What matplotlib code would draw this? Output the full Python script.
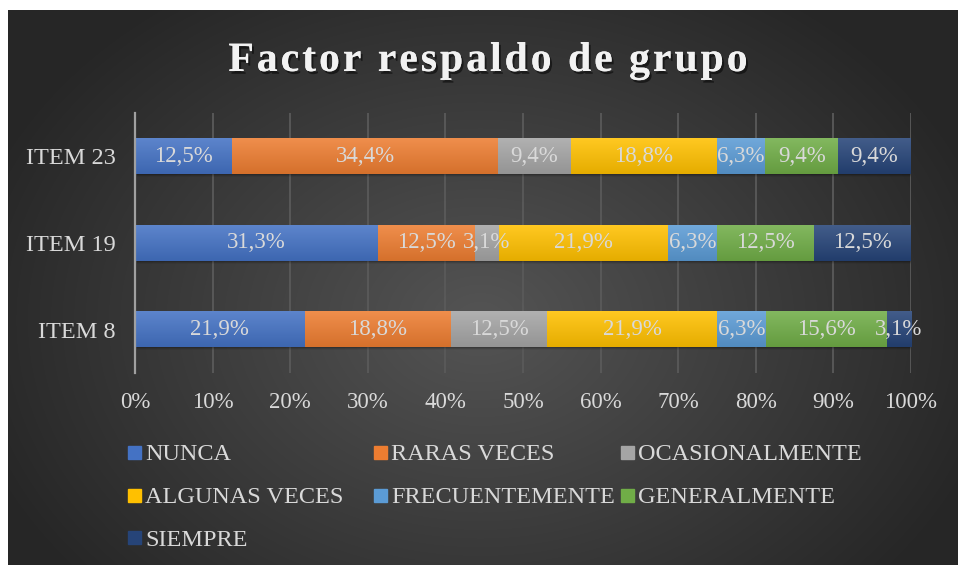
import numpy as np
import matplotlib
matplotlib.use('Agg')
import matplotlib.pyplot as plt
import matplotlib.patheffects as pe
from matplotlib.colors import to_rgb
from matplotlib.patches import Rectangle
from matplotlib.font_manager import FontProperties, findfont
from matplotlib.ft2font import FT2Font

# survey results, one list per answer, in item order (bottom to top)
items = ['ITEM 8', 'ITEM 19', 'ITEM 23']
answers = ['NUNCA', 'RARAS VECES', 'OCASIONALMENTE', 'ALGUNAS VECES',
           'FRECUENTEMENTE', 'GENERALMENTE', 'SIEMPRE']
nunca = [21.9, 31.3, 12.5]
raras_veces = [18.8, 12.5, 34.4]
ocasionalmente = [12.5, 3.1, 9.4]
algunas_veces = [21.9, 21.9, 18.8]
frecuentemente = [6.3, 6.3, 6.3]
generalmente = [15.6, 12.5, 9.4]
siempre = [3.1, 12.5, 9.4]
series = [nunca, raras_veces, ocasionalmente, algunas_veces,
          frecuentemente, generalmente, siempre]
xticks = [0, 10, 20, 30, 40, 50, 60, 70, 80, 90, 100]

colors = ['#4472C4', '#ED7D31', '#A5A5A5', '#FFC000',
          '#5B9BD5', '#70AD47', '#264478']
FONT = 'Liberation Serif'
TXT = '#D9D9D9'
W, H = 958, 565

plt.rcParams['font.family'] = FONT

fig = plt.figure(figsize=(W / 100, H / 100), dpi=100)
fig.patch.set_facecolor('white')

# dark radial background panel
bg = fig.add_axes([0, 0, 1, 1], zorder=0)
bg.set_xlim(0, W)
bg.set_ylim(H, 0)
bg.axis('off')
yy, xx = np.mgrid[10:H, 8:W]
r = np.sqrt(((xx - 480) / 560.0) ** 2 + ((yy - 320) / 420.0) ** 2)
shade = np.clip(0.33 - 0.19 * r, 0.15, 0.335)
bg.imshow(np.dstack([shade] * 3), extent=(8, W, H, 10), aspect='auto',
          interpolation='bilinear')

ax = fig.add_axes([135 / W, 1 - 373 / H, 776 / W, 260 / H], zorder=1)
ax.patch.set_alpha(0)
ax.set_xlim(0, 100)
ax.set_ylim(-0.5, 2.5)

data = np.array(series)
totals = data.sum(axis=0)
shares = data / totals * 100   # 100% stacked
ypos = np.arange(len(items))
bar_h = 0.405

left = np.zeros(len(items))
for vals, share, col, name in zip(data, shares, colors, answers):
    bars = ax.barh(ypos, share, left=left, height=bar_h, color=col,
                   label=name, zorder=3)
    base = np.array(to_rgb(col))
    top_c = base + (1 - base) * 0.13
    bot_c = base * 0.9
    grad = np.linspace(0, 1, 32)[:, None]
    img = top_c[None, :] * (1 - grad) + bot_c[None, :] * grad
    img = np.repeat(img[:, None, :], 2, axis=1)
    for b, v in zip(bars, vals):
        x0, y0 = b.get_x(), b.get_y()
        w, h = b.get_width(), b.get_height()
        ax.imshow(img, extent=(x0, x0 + w, y0, y0 + h), aspect='auto',
                  origin='upper', zorder=3.5, interpolation='bilinear')
        label = f'{v:.1f}%'.replace('.', ',')
        ax.text(x0 + w / 2, y0 + h / 2, label, ha='center', va='center',
                color=TXT, fontsize=16.5, zorder=5)
    left += share

# soft shadow under each bar, built from a few faint offset layers
for y in ypos:
    for k, a in zip([0.012, 0.024, 0.036], [0.14, 0.10, 0.06]):
        ax.add_patch(Rectangle((0.2, y - bar_h / 2 - k), left[y], bar_h,
                               color='black', alpha=a, zorder=2.5, lw=0))

ax.set_yticks(ypos)
ax.set_yticklabels(items, color=TXT, fontsize=17.5)
ax.set_xticks(xticks)
ax.set_xticklabels([f'{t}%' for t in xticks], color=TXT, fontsize=16.5)
ax.tick_params(axis='both', length=0)
ax.tick_params(axis='x', pad=14)
ax.tick_params(axis='y', pad=14)
ax.grid(axis='x', color='#5a5a5a', lw=1.3, zorder=1)
for s in ['top', 'right', 'bottom']:
    ax.spines[s].set_visible(False)
ax.spines['left'].set_color('#a0a0a0')
ax.spines['left'].set_linewidth(1.6)
ax.spines['left'].set_zorder(4)

# title, drawn letter by letter to get the wide tracking
title = 'Factor respaldo de grupo'
tsize = 30
fp = FontProperties(family=FONT, weight='bold', size=tsize)
ft = FT2Font(findfont(fp))
ft.set_size(tsize, 72)
advances = [ft.load_char(ord(c)).linearHoriAdvance / 65536 * 100 / 72
            for c in title]
track = 3.0
total_w = sum(advances) + track * (len(title) - 1)
x = 488 - total_w / 2
shadow = [pe.withSimplePatchShadow(offset=(1.5, -2), shadow_rgbFace='black',
                                   alpha=0.5), pe.Normal()]
for c, adv in zip(title, advances):
    fig.text(x / W, 1 - 71 / H, c, fontproperties=fp, color='#F2F2F2',
             va='baseline', ha='left', path_effects=shadow)
    x += adv + track

# legend laid out in rows of three, like the spreadsheet
col_x = [128, 374, 621]
row_y = [452.5, 495, 537.5]
for i, (name, col) in enumerate(zip(answers, colors)):
    cx = col_x[i % 3]
    cy = row_y[i // 3]
    bg.add_patch(Rectangle((cx, cy - 6.5), 13, 13, color=col, zorder=3))
    bg.text(cx + 17, cy, name, color=TXT, fontsize=17.5, va='center_baseline',
            ha='left', zorder=3)

fig.savefig('out.png', dpi=100)
